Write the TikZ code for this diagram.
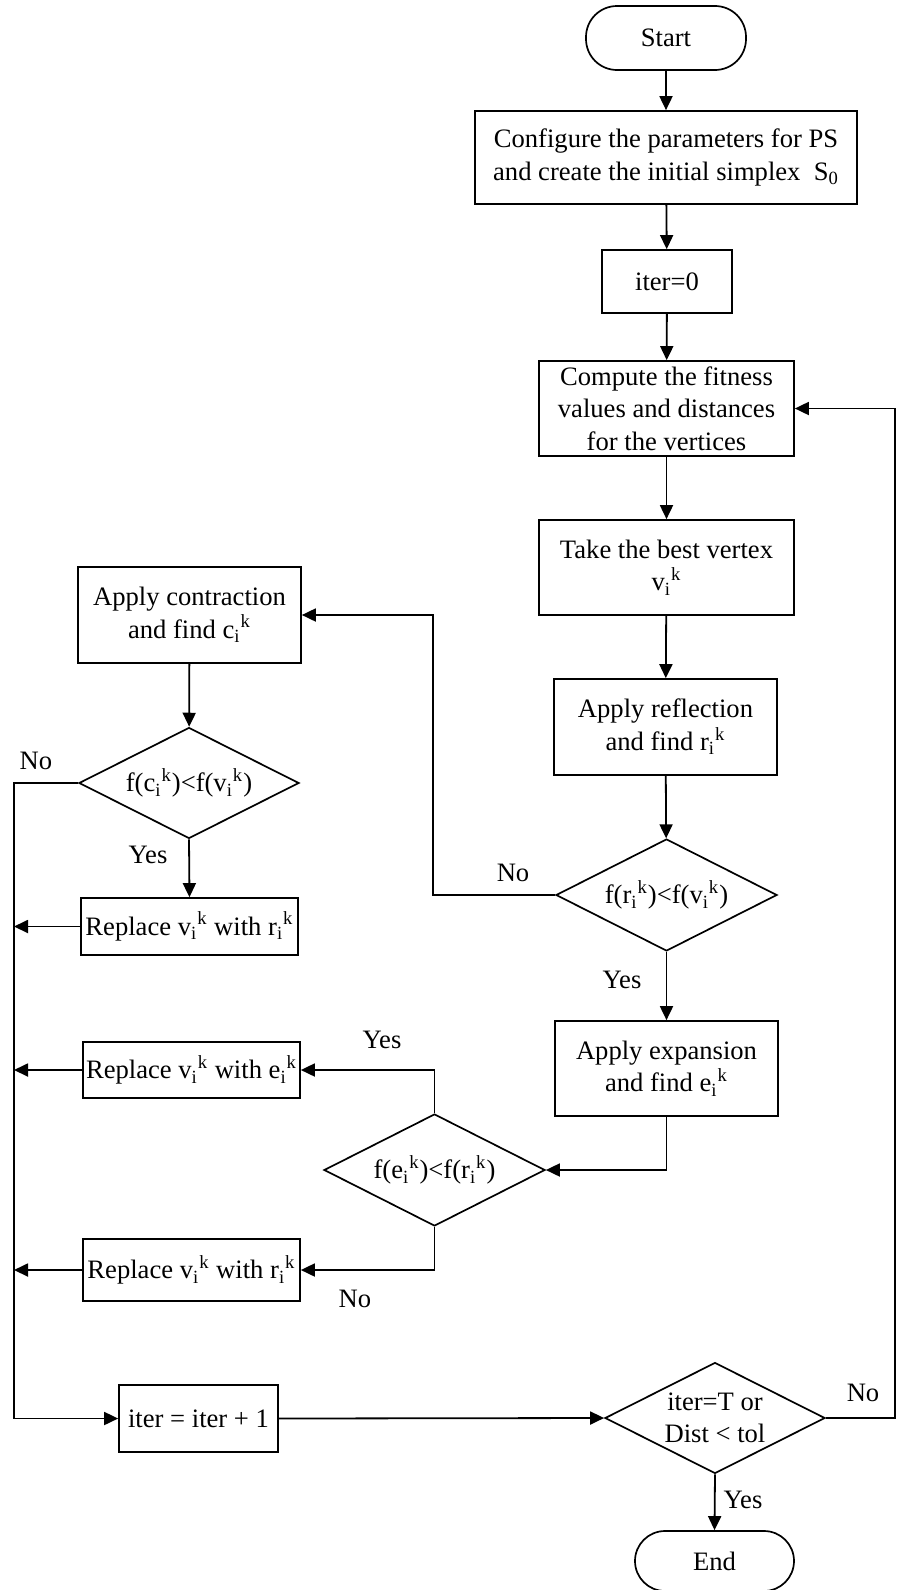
\documentclass[tikz,border=0pt]{standalone}
\usepackage{fontspec}
\setmainfont{Liberation Serif}
\usetikzlibrary{shapes.geometric,arrows.meta}
\begin{document}
\begin{tikzpicture}[x=0.5pt,y=-0.5pt,
  every node/.style={font=\fontsize{13.3}{16.3}\selectfont, inner sep=0pt},
  box/.style={draw, line width=0.85pt, align=center},
  term/.style={box, rounded corners=15.5pt},
  dec/.style={draw, line width=0.85pt, diamond, aspect=2, align=center},
  arr/.style={line width=0.9pt, -{Triangle[length=7pt,width=6.5pt]}},
  ln/.style={line width=0.9pt}]
\useasboundingbox (0,0) rectangle (896,1590);
% right column
\node[term, minimum width=80pt, minimum height=32pt] (start) at (666,38) {Start};
\node[box, minimum width=191pt, minimum height=46.5pt] (config) at (666,157.5) {Configure the parameters for PS\\and create the initial simplex\ \ S\textsubscript{0}};
\node[box, minimum width=65pt, minimum height=31.5pt] (iter0) at (667,281.5) {iter=0};
\node[box, minimum width=127.5pt, minimum height=47.5pt] (compute) at (666.5,408.5) {Compute the fitness\\values and distances\\for the vertices};
\node[box, minimum width=127.5pt, minimum height=47.5pt] (best) at (666.5,567.5) {Take the best vertex\\v\textsubscript{i}\textsuperscript{k}};
\node[box, minimum width=111.5pt, minimum height=48pt] (refl) at (665.5,727) {Apply reflection\\and find r\textsubscript{i}\textsuperscript{k}};
\node[dec, minimum width=110.5pt, minimum height=56pt] (dr) at (666.5,895) {f(r\textsubscript{i}\textsuperscript{k})<f(v\textsubscript{i}\textsuperscript{k})};
\node[box, minimum width=111.5pt, minimum height=47.5pt] (exp) at (666.5,1068.5) {Apply expansion\\and find e\textsubscript{i}\textsuperscript{k}};
\node[dec, minimum width=110.5pt, minimum height=56pt] (de) at (434.5,1170) {f(e\textsubscript{i}\textsuperscript{k})<f(r\textsubscript{i}\textsuperscript{k})};
% left column
\node[box, minimum width=111.5pt, minimum height=48pt] (cont) at (189.5,615) {Apply contraction\\and find c\textsubscript{i}\textsuperscript{k}};
\node[dec, minimum width=110pt, minimum height=55.5pt] (dc) at (189,783) {f(c\textsubscript{i}\textsuperscript{k})<f(v\textsubscript{i}\textsuperscript{k})};
\node[box, minimum width=108.5pt, minimum height=28.5pt] (rep1) at (189.5,926.5) {Replace v\textsubscript{i}\textsuperscript{k} with r\textsubscript{i}\textsuperscript{k}};
\node[box, minimum width=108.5pt, minimum height=28pt] (rep2) at (191.5,1070) {Replace v\textsubscript{i}\textsuperscript{k} with e\textsubscript{i}\textsuperscript{k}};
\node[box, minimum width=108.5pt, minimum height=31pt] (rep3) at (191.5,1270) {Replace v\textsubscript{i}\textsuperscript{k} with r\textsubscript{i}\textsuperscript{k}};
\node[box, minimum width=79.5pt, minimum height=33.5pt] (inc) at (198.5,1418.5) {iter = iter + 1};
\node[dec, minimum width=110pt, minimum height=55.5pt] (df) at (715,1418) {iter=T or\\Dist < tol};
\node[term, minimum width=79.5pt, minimum height=30pt, rounded corners=15pt] (end) at (714.5,1561) {End};
% helper coordinates
\coordinate (L) at (14,783);
\coordinate (N1) at (433,895);
\coordinate (R) at (895,1418);
% connectors
\draw[arr] (start) -- (config);
\draw[arr] (config) -- (iter0);
\draw[arr] (iter0) -- (compute);
\draw[arr] (compute) -- (best);
\draw[arr] (best) -- (refl);
\draw[arr] (refl) -- (dr);
\draw[arr] (dr.west) -- (N1) |- (cont.east);
\draw[arr] (dr.south) -- (exp.north);
\draw[arr] (exp.south) |- (de.east);
\draw[arr] (de.north) |- (rep2.east);
\draw[arr] (de.south) |- (rep3.east);
\draw[arr] (cont) -- (dc);
\draw[arr] (dc.south) -- (rep1.north);
\draw[arr] (dc.west) -- (L) -- (L |- inc.west) -- (inc.west);
\draw[arr] (rep1.west) -- (rep1.west -| L);
\draw[arr] (rep2.west) -- (rep2.west -| L);
\draw[arr] (rep3.west) -- (rep3.west -| L);
\draw[arr] (inc.east) -- (df.west);
\draw[arr] (df.south) -- (end.north);
\draw[arr] (df.east) -- (R) -- (R |- compute.east) -- (compute.east);
% labels
\node (l1) at (513,873) {No};
\node (l2) at (622,980) {Yes};
\node (l3) at (382,1040) {Yes};
\node (l4) at (355,1299) {No};
\node (l5) at (36,761) {No};
\node (l6) at (148,855) {Yes};
\node (l7) at (863,1393) {No};
\node (l8) at (743,1500) {Yes};
\end{tikzpicture}
\end{document}
